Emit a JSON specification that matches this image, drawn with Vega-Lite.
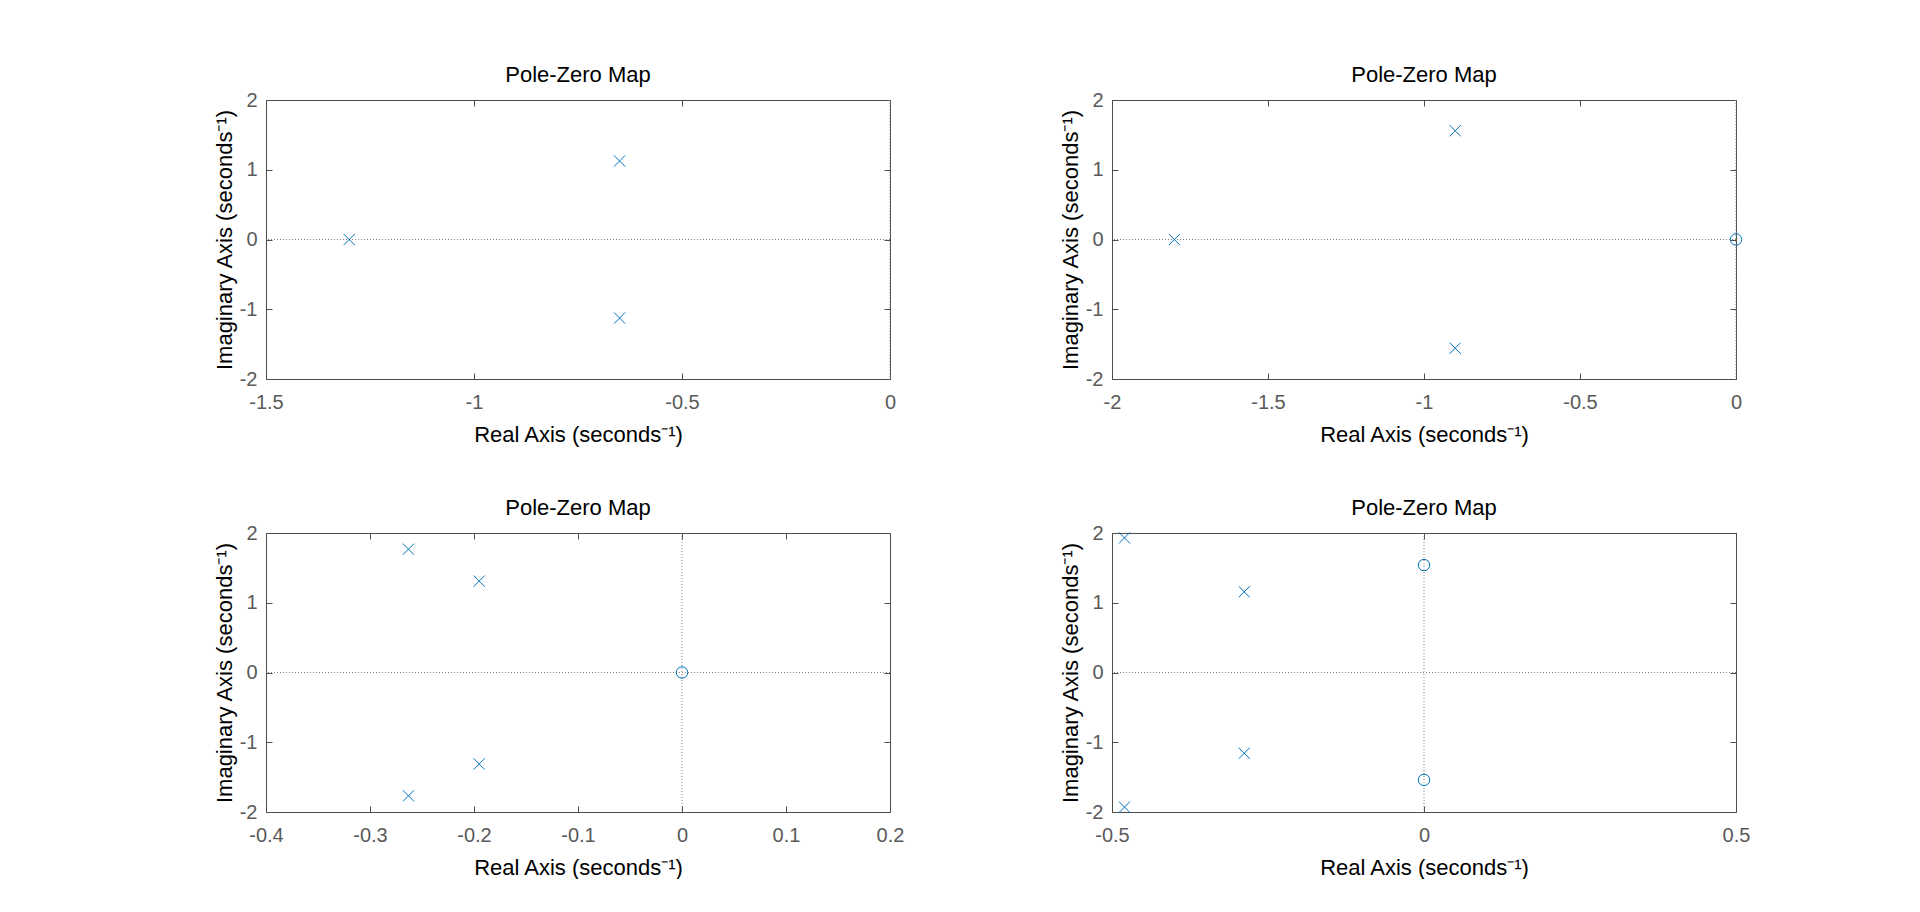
{
  "$schema": "https://vega.github.io/schema/vega-lite/v6.json",
  "background": "white",
  "padding": {"left": 212, "top": 63, "right": 0, "bottom": 0},
  "datasets": {
    "pz": [
      {"panel": 1, "kind": "pole", "re": -1.3, "im": 0},
      {"panel": 1, "kind": "pole", "re": -0.65, "im": 1.126},
      {"panel": 1, "kind": "pole", "re": -0.65, "im": -1.126},
      {"panel": 2, "kind": "pole", "re": -1.8, "im": 0},
      {"panel": 2, "kind": "pole", "re": -0.9, "im": 1.559},
      {"panel": 2, "kind": "pole", "re": -0.9, "im": -1.559},
      {"panel": 2, "kind": "zero", "re": 0, "im": 0},
      {"panel": 3, "kind": "pole", "re": -0.263, "im": 1.768},
      {"panel": 3, "kind": "pole", "re": -0.263, "im": -1.768},
      {"panel": 3, "kind": "pole", "re": -0.195, "im": 1.311},
      {"panel": 3, "kind": "pole", "re": -0.195, "im": -1.311},
      {"panel": 3, "kind": "zero", "re": 0, "im": 0},
      {"panel": 4, "kind": "pole", "re": -0.48, "im": 1.93},
      {"panel": 4, "kind": "pole", "re": -0.48, "im": -1.93},
      {"panel": 4, "kind": "pole", "re": -0.288, "im": 1.157},
      {"panel": 4, "kind": "pole", "re": -0.288, "im": -1.157},
      {"panel": 4, "kind": "zero", "re": 0, "im": 1.54},
      {"panel": 4, "kind": "zero", "re": 0, "im": -1.54}
    ]
  },
  "data": {"name": "pz"},
  "columns": 2,
  "spacing": {"row": 154, "column": 222},
  "bounds": "flush",
  "concat": [
    {
      "title": "Pole-Zero Map",
      "width": 624, "height": 279,
      "transform": [{"filter": "datum.panel == 1"}],
      "layer": [
        {"data": {"values": [{}]}, "mark": {"type": "rule", "strokeDash": [1, 2], "color": "#808080", "strokeWidth": 1},
         "encoding": {"y": {"datum": 0, "type": "quantitative", "scale": {"domain": [-2, 2], "nice": false, "zero": false},
           "axis": {"orient": "right", "labels": false, "title": null, "values": [-2, -1, 0, 1, 2]}}}},
        {"data": {"values": [{}]}, "mark": {"type": "rule", "strokeDash": [1, 2], "color": "#808080", "strokeWidth": 1},
         "encoding": {"x": {"datum": 0, "type": "quantitative", "scale": {"domain": [-1.5, 0], "nice": false, "zero": false},
           "axis": {"orient": "top", "labels": false, "title": null, "values": [-1.5, -1, -0.5, 0]}}}},
        {"mark": {"type": "point", "filled": false, "strokeWidth": 1, "color": "#0072BD", "opacity": 1},
         "encoding": {
           "x": {"field": "re", "type": "quantitative", "scale": {"domain": [-1.5, 0], "nice": false, "zero": false},
             "axis": {"orient": "bottom", "title": "Real Axis (seconds⁻¹)", "values": [-1.5, -1, -0.5, 0], "labelExpr": "toString(datum.value)", "labelFlush": false}},
           "y": {"field": "im", "type": "quantitative", "scale": {"domain": [-2, 2], "nice": false, "zero": false},
             "axis": {"orient": "left", "title": "Imaginary Axis (seconds⁻¹)", "values": [-2, -1, 0, 1, 2], "labelExpr": "toString(datum.value)"}},
           "shape": {"field": "kind", "type": "nominal", "scale": {"domain": ["pole", "zero"], "range": ["M-1,-1L1,1M-1,1L1,-1", "circle"]}, "legend": null},
           "size": {"field": "kind", "type": "nominal", "scale": {"domain": ["pole", "zero"], "range": [125, 130]}, "legend": null}
         }}
      ],
      "resolve": {"axis": {"x": "independent", "y": "independent"}}
    },
    {
      "title": "Pole-Zero Map",
      "width": 624, "height": 279,
      "transform": [{"filter": "datum.panel == 2"}],
      "layer": [
        {"data": {"values": [{}]}, "mark": {"type": "rule", "strokeDash": [1, 2], "color": "#808080", "strokeWidth": 1},
         "encoding": {"y": {"datum": 0, "type": "quantitative", "scale": {"domain": [-2, 2], "nice": false, "zero": false},
           "axis": {"orient": "right", "labels": false, "title": null, "values": [-2, -1, 0, 1, 2]}}}},
        {"data": {"values": [{}]}, "mark": {"type": "rule", "strokeDash": [1, 2], "color": "#808080", "strokeWidth": 1},
         "encoding": {"x": {"datum": 0, "type": "quantitative", "scale": {"domain": [-2, 0], "nice": false, "zero": false},
           "axis": {"orient": "top", "labels": false, "title": null, "values": [-2, -1.5, -1, -0.5, 0]}}}},
        {"mark": {"type": "point", "filled": false, "strokeWidth": 1, "color": "#0072BD", "opacity": 1},
         "encoding": {
           "x": {"field": "re", "type": "quantitative", "scale": {"domain": [-2, 0], "nice": false, "zero": false},
             "axis": {"orient": "bottom", "title": "Real Axis (seconds⁻¹)", "values": [-2, -1.5, -1, -0.5, 0], "labelExpr": "toString(datum.value)", "labelFlush": false}},
           "y": {"field": "im", "type": "quantitative", "scale": {"domain": [-2, 2], "nice": false, "zero": false},
             "axis": {"orient": "left", "title": "Imaginary Axis (seconds⁻¹)", "values": [-2, -1, 0, 1, 2], "labelExpr": "toString(datum.value)"}},
           "shape": {"field": "kind", "type": "nominal", "scale": {"domain": ["pole", "zero"], "range": ["M-1,-1L1,1M-1,1L1,-1", "circle"]}, "legend": null},
           "size": {"field": "kind", "type": "nominal", "scale": {"domain": ["pole", "zero"], "range": [125, 130]}, "legend": null}
         }}
      ],
      "resolve": {"axis": {"x": "independent", "y": "independent"}}
    },
    {
      "title": "Pole-Zero Map",
      "width": 624, "height": 279,
      "transform": [{"filter": "datum.panel == 3"}],
      "layer": [
        {"data": {"values": [{}]}, "mark": {"type": "rule", "strokeDash": [1, 2], "color": "#808080", "strokeWidth": 1},
         "encoding": {"y": {"datum": 0, "type": "quantitative", "scale": {"domain": [-2, 2], "nice": false, "zero": false},
           "axis": {"orient": "right", "labels": false, "title": null, "values": [-2, -1, 0, 1, 2]}}}},
        {"data": {"values": [{}]}, "mark": {"type": "rule", "strokeDash": [1, 2], "color": "#808080", "strokeWidth": 1},
         "encoding": {"x": {"datum": 0, "type": "quantitative", "scale": {"domain": [-0.4, 0.2], "nice": false, "zero": false},
           "axis": {"orient": "top", "labels": false, "title": null, "values": [-0.4, -0.3, -0.2, -0.1, 0, 0.1, 0.2]}}}},
        {"mark": {"type": "point", "filled": false, "strokeWidth": 1, "color": "#0072BD", "opacity": 1},
         "encoding": {
           "x": {"field": "re", "type": "quantitative", "scale": {"domain": [-0.4, 0.2], "nice": false, "zero": false},
             "axis": {"orient": "bottom", "title": "Real Axis (seconds⁻¹)", "values": [-0.4, -0.3, -0.2, -0.1, 0, 0.1, 0.2], "labelExpr": "toString(datum.value)", "labelFlush": false}},
           "y": {"field": "im", "type": "quantitative", "scale": {"domain": [-2, 2], "nice": false, "zero": false},
             "axis": {"orient": "left", "title": "Imaginary Axis (seconds⁻¹)", "values": [-2, -1, 0, 1, 2], "labelExpr": "toString(datum.value)"}},
           "shape": {"field": "kind", "type": "nominal", "scale": {"domain": ["pole", "zero"], "range": ["M-1,-1L1,1M-1,1L1,-1", "circle"]}, "legend": null},
           "size": {"field": "kind", "type": "nominal", "scale": {"domain": ["pole", "zero"], "range": [125, 130]}, "legend": null}
         }}
      ],
      "resolve": {"axis": {"x": "independent", "y": "independent"}}
    },
    {
      "title": "Pole-Zero Map",
      "width": 624, "height": 279,
      "transform": [{"filter": "datum.panel == 4"}],
      "layer": [
        {"data": {"values": [{}]}, "mark": {"type": "rule", "strokeDash": [1, 2], "color": "#808080", "strokeWidth": 1},
         "encoding": {"y": {"datum": 0, "type": "quantitative", "scale": {"domain": [-2, 2], "nice": false, "zero": false},
           "axis": {"orient": "right", "labels": false, "title": null, "values": [-2, -1, 0, 1, 2]}}}},
        {"data": {"values": [{}]}, "mark": {"type": "rule", "strokeDash": [1, 2], "color": "#808080", "strokeWidth": 1},
         "encoding": {"x": {"datum": 0, "type": "quantitative", "scale": {"domain": [-0.5, 0.5], "nice": false, "zero": false},
           "axis": {"orient": "top", "labels": false, "title": null, "values": [-0.5, 0, 0.5]}}}},
        {"mark": {"type": "point", "filled": false, "strokeWidth": 1, "color": "#0072BD", "opacity": 1},
         "encoding": {
           "x": {"field": "re", "type": "quantitative", "scale": {"domain": [-0.5, 0.5], "nice": false, "zero": false},
             "axis": {"orient": "bottom", "title": "Real Axis (seconds⁻¹)", "values": [-0.5, 0, 0.5], "labelExpr": "toString(datum.value)", "labelFlush": false}},
           "y": {"field": "im", "type": "quantitative", "scale": {"domain": [-2, 2], "nice": false, "zero": false},
             "axis": {"orient": "left", "title": "Imaginary Axis (seconds⁻¹)", "values": [-2, -1, 0, 1, 2], "labelExpr": "toString(datum.value)"}},
           "shape": {"field": "kind", "type": "nominal", "scale": {"domain": ["pole", "zero"], "range": ["M-1,-1L1,1M-1,1L1,-1", "circle"]}, "legend": null},
           "size": {"field": "kind", "type": "nominal", "scale": {"domain": ["pole", "zero"], "range": [125, 130]}, "legend": null}
         }}
      ],
      "resolve": {"axis": {"x": "independent", "y": "independent"}}
    }
  ],
  "config": {
    "view": {"stroke": "#4d4d4d", "strokeWidth": 1},
    "axis": {
      "domain": false, "grid": false, "tickSize": -6, "tickColor": "#4d4d4d", "tickWidth": 1,
      "labelFont": "Liberation Sans", "labelFontSize": 20, "labelColor": "#5a5a5a",
      "titleFont": "Liberation Sans", "titleFontSize": 22, "titleFontWeight": "normal", "titleColor": "#000000"
    },
    "axisBottom": {"labelPadding": 19, "titlePadding": 12},
    "axisLeft": {"labelPadding": 15, "titlePadding": 3},
    "title": {"font": "Liberation Sans", "fontSize": 22, "fontWeight": "normal", "color": "#000000", "offset": 3}
  }
}
